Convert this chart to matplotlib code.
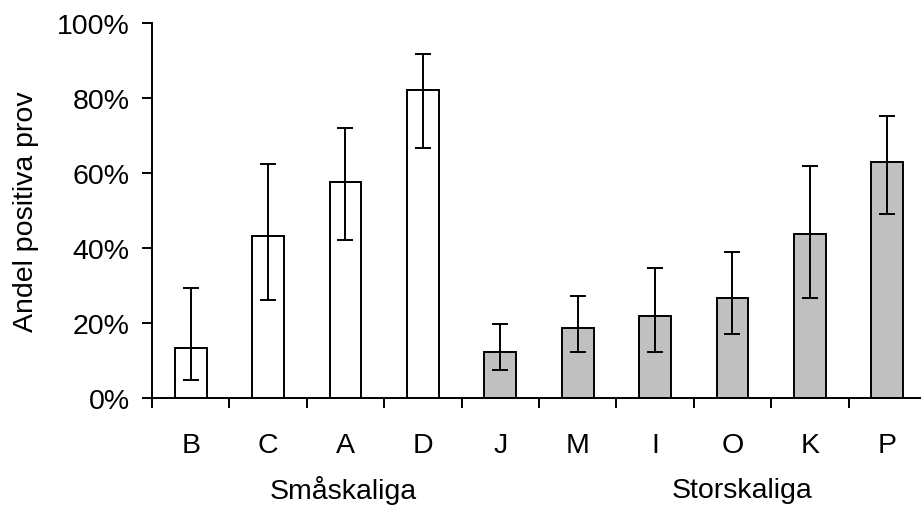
import matplotlib
matplotlib.use('Agg')
import matplotlib.pyplot as plt
from matplotlib.ticker import PercentFormatter, FixedLocator

plt.rcParams['font.family'] = ['Liberation Sans', 'DejaVu Sans']

# andel positiva prov per anläggning (procent), med felstaplar
labels = ['B', 'C', 'A', 'D', 'J', 'M', 'I', 'O', 'K', 'P']
values = [13.3, 43.2, 57.6, 82.1, 12.3, 18.7, 21.9, 26.6, 43.7, 62.9]
upper = [29.3, 62.3, 71.9, 91.7, 19.7, 27.1, 34.6, 38.9, 61.8, 75.2]
lower = [4.8, 26.1, 42.1, 66.7, 7.5, 12.3, 12.3, 17.0, 26.6, 49.0]
groups = ['Småskaliga', 'Storskaliga']
group_of = [0, 0, 0, 0, 1, 1, 1, 1, 1, 1]
group_colors = ['white', '#c0c0c0']

fs = 20.5

fig = plt.figure(figsize=(9.21, 5.10), dpi=100)
ax = fig.add_axes([0.165, 0.2182, 0.8404, 0.7353])

x = list(range(len(labels)))
yerr = [[v - lo for v, lo in zip(values, lower)],
        [hi - v for v, hi in zip(values, upper)]]
colors = [group_colors[g] for g in group_of]

ax.bar(x, values, width=0.41, color=colors, edgecolor='black', linewidth=1.4)
ax.errorbar(x, values, yerr=yerr, fmt='none', ecolor='black',
            elinewidth=1.4, capsize=5.6, capthick=1.4)

ax.set_xlim(-0.5, len(labels) - 0.5)
ax.set_ylim(0, 100)
ax.yaxis.set_major_locator(FixedLocator([0, 20, 40, 60, 80, 100]))
ax.yaxis.set_major_formatter(PercentFormatter(decimals=0))

ax.set_xticks(x)
ax.set_xticklabels(labels)
ax.set_xticks([i - 0.5 for i in range(len(labels) + 1)], minor=True)
ax.tick_params(axis='x', which='major', length=0, pad=25, labelsize=fs)
ax.tick_params(axis='x', which='minor', length=7, width=1.4, direction='out')
ax.tick_params(axis='y', length=7, width=1.4, pad=9, labelsize=fs)

for s in ['top', 'right']:
    ax.spines[s].set_visible(False)
for s in ['left', 'bottom']:
    ax.spines[s].set_linewidth(1.4)

ax.set_ylabel('Andel positiva prov', fontsize=fs, va='center')
ax.yaxis.set_label_coords(-0.163, 0.5)

ax.text(1.97, -24.5, groups[0], ha='center', va='center', fontsize=fs,
        transform=ax.transData, clip_on=False)
ax.text(7.12, -24.5, groups[1], ha='center', va='center', fontsize=fs,
        transform=ax.transData, clip_on=False)

fig.savefig('out.png', dpi=100)
